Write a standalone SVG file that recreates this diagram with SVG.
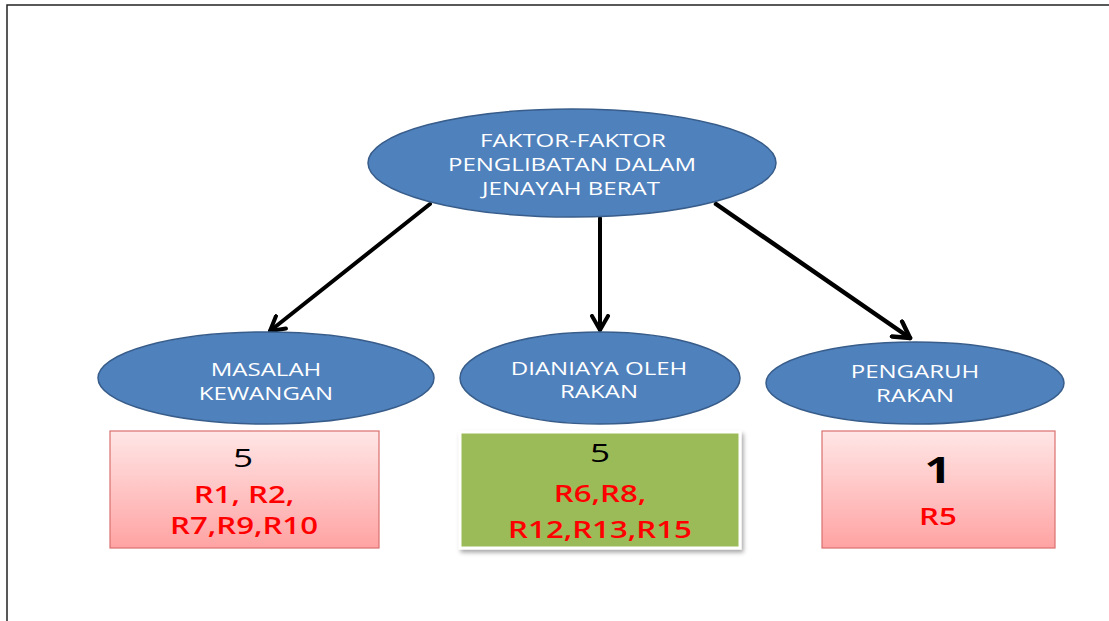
<svg xmlns="http://www.w3.org/2000/svg" width="1109" height="621" viewBox="0 0 1109 621">
<defs>
<linearGradient id="pink" x1="0" y1="0" x2="0" y2="1">
<stop offset="0" stop-color="#ffe6e6"/>
<stop offset="1" stop-color="#ffa3a3"/>
</linearGradient>
<filter id="sh" x="-10%" y="-10%" width="130%" height="130%">
<feDropShadow dx="2" dy="3" stdDeviation="2" flood-color="#000" flood-opacity="0.35"/>
</filter>
<marker id="arr" viewBox="0 0 10 10" refX="8" refY="5" markerWidth="5" markerHeight="5" orient="auto" markerUnits="strokeWidth">
<path d="M1,1 L8,5 L1,9" fill="none" stroke="#000" stroke-width="2" stroke-linecap="round" stroke-linejoin="round"/>
</marker>
<style>
.ell{fill:#4f81bd;stroke:#385d8a;stroke-width:1.5}
.et{font-family:"Open Sans","Liberation Sans",sans-serif;font-size:18.5px;fill:#fff;text-anchor:middle}
.num{font-family:"Open Sans","Liberation Sans",sans-serif;font-size:26px;fill:#000;text-anchor:middle}
.red{font-family:"Open Sans","Liberation Sans",sans-serif;font-size:24px;font-weight:600;fill:#ff0000;text-anchor:middle}
.conn{stroke:#000;stroke-width:4;fill:none;stroke-linecap:round}
.pbox{fill:url(#pink);stroke:#d9706e;stroke-width:1.2}
</style>
</defs>
<rect width="1109" height="621" fill="#fff"/>
<path d="M7,621 V5 H1109" fill="none" stroke="#222" stroke-width="1.5"/>
<g id="connectors">
<line class="conn" x1="430" y1="204" x2="270" y2="331" marker-end="url(#arr)"/>
<line class="conn" x1="600" y1="218" x2="600" y2="330" marker-end="url(#arr)"/>
<line class="conn" x1="716" y1="204" x2="910" y2="338" marker-end="url(#arr)" style="stroke-width:4.5"/>
</g>
<g id="root">
<ellipse class="ell" cx="572" cy="163" rx="204" ry="54"/>
<text class="et" transform="translate(573,147) scale(1.3,1)">FAKTOR-FAKTOR</text>
<text class="et" transform="translate(572,171) scale(1.3,1)">PENGLIBATAN DALAM</text>
<text class="et" transform="translate(571,195) scale(1.3,1)">JENAYAH BERAT</text>
</g>
<g id="masalah">
<ellipse class="ell" cx="266" cy="378" rx="168" ry="46"/>
<text class="et" transform="translate(266,376) scale(1.3,1)">MASALAH</text>
<text class="et" transform="translate(266,400) scale(1.3,1)">KEWANGAN</text>
</g>
<g id="dianiaya">
<ellipse class="ell" cx="600" cy="378" rx="140" ry="46"/>
<text class="et" transform="translate(599,375) scale(1.3,1)">DIANIAYA OLEH</text>
<text class="et" transform="translate(599,398) scale(1.3,1)">RAKAN</text>
</g>
<g id="pengaruh">
<ellipse class="ell" cx="915" cy="383" rx="149" ry="41"/>
<text class="et" transform="translate(915,378) scale(1.3,1)">PENGARUH</text>
<text class="et" transform="translate(915,402) scale(1.3,1)">RAKAN</text>
</g>
<g id="box-masalah">
<rect class="pbox" x="110" y="431" width="269" height="117"/>
<text class="num" transform="translate(243,467) scale(1.35,1)">5</text>
<text class="red" transform="translate(244,503) scale(1.3,1)">R1, R2,</text>
<text class="red" transform="translate(244,534) scale(1.3,1)">R7,R9,R10</text>
</g>
<g id="box-dianiaya">
<rect x="460" y="432" width="280" height="116" fill="#9bbb59" stroke="#fff" stroke-width="3" filter="url(#sh)"/>
<text class="num" transform="translate(600,462) scale(1.35,1)">5</text>
<text class="red" transform="translate(600,502) scale(1.3,1)">R6,R8,</text>
<text class="red" transform="translate(600,538) scale(1.3,1)">R12,R13,R15</text>
</g>
<g id="box-pengaruh">
<rect class="pbox" x="822" y="431" width="233" height="117"/>
<text class="num" transform="translate(938,483) scale(1.3,1)" style="font-size:36px;font-weight:700">1</text>
<text class="red" transform="translate(938,525) scale(1.3,1)">R5</text>
</g>
</svg>
